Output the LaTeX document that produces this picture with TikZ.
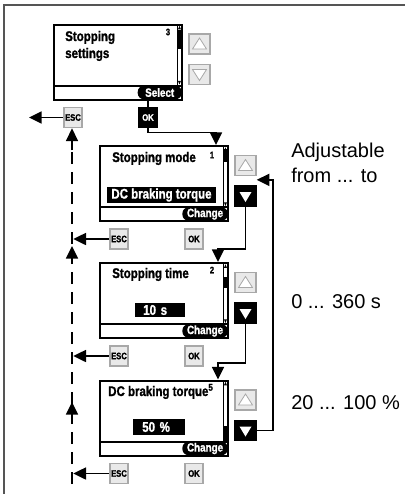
\documentclass[tikz,border=0pt]{standalone}
\usepackage{fontspec}
\setmainfont{Liberation Sans}
\newfontfamily\lcdfont[FakeStretch=0.82,FakeBold=1.2]{Liberation Sans}
\usetikzlibrary{positioning, arrows.meta, calc}
\definecolor{keyfill}{RGB}{233,233,233}
\definecolor{keyedge}{RGB}{168,168,168}
\definecolor{framegray}{RGB}{85,85,85}
\tikzset{
  LCD/.style={draw=black,line width=1.5pt,minimum width=96pt,minimum height=56.25pt,inner sep=0pt,
    path picture={
      \draw[line width=1.5pt] ([yshift=10.5pt]path picture bounding box.south west)--([yshift=10.5pt]path picture bounding box.south east);
      \draw[line width=0.6pt] ([xshift=-3.75pt]path picture bounding box.north east)--([xshift=-3.75pt,yshift=10.5pt]path picture bounding box.south east);
      \fill ([xshift=-1.9pt,yshift=-1pt]path picture bounding box.north east)--++(1.5,3.5)--++(-3,0)--cycle;
      \fill ([xshift=-1.9pt,yshift=11.3pt]path picture bounding box.south east)--++(1.5,-3.5)--++(-3,0)--cycle;
    }},
  TTL/.style={font=\lcdfont\bfseries\fontsize{10.5}{12}\selectfont,inner sep=0pt,anchor=base west},
  NUM/.style={font=\lcdfont\bfseries\fontsize{7}{8}\selectfont,inner sep=0pt},
  VAL/.style={fill=black,text=white,font=\lcdfont\bfseries\fontsize{10.5}{12}\selectfont,minimum height=12pt,inner ysep=0pt},
  PILL/.style={fill=black,text=white,rounded corners=4.5pt,font=\lcdfont\bfseries\fontsize{9}{10}\selectfont,minimum height=10pt,inner sep=0pt,anchor=east},
  KEY/.style={draw=keyedge,fill=keyfill,line width=1.3pt,minimum width=14pt,minimum height=15pt,inner sep=0pt,font=\lcdfont\bfseries\fontsize{7}{8}\selectfont},
  KEYON/.style={KEY,draw=black,fill=black,text=white},
  ARU/.style={KEY,minimum width=15.5pt,path picture={\draw[keyedge,fill=white,line width=0.6pt] ($(path picture bounding box.center)+(-7,5)$)--++(14,0)--++(-7,-11)--cycle;}},
  ARD/.style={KEY,minimum width=15.5pt,path picture={\draw[keyedge,fill=white,line width=0.6pt] ($(path picture bounding box.center)+(-7,-5)$)--++(14,0)--++(-7,11)--cycle;}},
  ARDON/.style={KEYON,minimum width=15.5pt,path picture={\fill[white] ($(path picture bounding box.center)+(-6,-4)$)--++(12,0)--++(-6,10)--cycle;}},
  FL/.style={-{Triangle[length=9.5pt,width=9pt]},line width=1.3pt},
  LN/.style={line width=1.3pt},
  FRM/.style={draw=framegray,line width=1.2pt},
  INFO/.style={font=\fontsize{15}{18}\selectfont,inner sep=0pt,anchor=base west},
}
\begin{document}
\begin{tikzpicture}[x=0.75pt,y=-0.75pt]
\useasboundingbox (0,0) rectangle (405,494);

% Frame
\draw[FRM] (4,494)--(4,5)--(405,5);

% Screen 1: Stopping settings
\node[LCD](scr1) at (118,62){};
\fill ([xshift=-3.75pt,yshift=-4.5pt]scr1.north east) rectangle ([yshift=-18.75pt]scr1.north east);
\node[TTL](ttl1a) at (65,41){Stopping};
\node[TTL](ttl1b) at (65,58){settings};
\node[NUM](num1) at (168,32){3};
\node[PILL,minimum width=33pt](sel1) at (182,92.5){Select};
\node[ARU](up1) at (199.5,44){};
\node[ARD](dn1) at (199.5,74.5){};
\node[KEY](esc1) at (73,117.5){ESC};
\node[KEYON](ok1) at (148,117.5){OK};

% Screen 2: Stopping mode
\node[LCD](scr2) at (164,183.5){};
\fill ([xshift=-3.75pt,yshift=-3pt]scr2.north east) rectangle ([yshift=-12.75pt]scr2.north east);
\node[TTL](ttl2) at (112,162){Stopping mode};
\node[NUM](num2) at (212,155){1};
\node[VAL,minimum width=77.25pt](val2) at (161.5,195){DC braking torque};
\node[PILL,minimum width=34pt](chg2) at (228,214){Change};
\node[ARU](up2) at (245.5,165.5){};
\node[ARDON](dn2) at (245.5,196){};
\node[KEY](esc2) at (119,239){ESC};
\node[KEY](ok2) at (194,239){OK};

% Screen 3: Stopping time
\node[LCD](scr3) at (164,300.5){};
\fill ([xshift=-3.75pt,yshift=-11.25pt]scr3.north east) rectangle ([yshift=-19.5pt]scr3.north east);
\node[TTL](ttl3) at (112,278){Stopping time};
\node[NUM](num3) at (212,270){2};
\node[VAL,anchor=west,minimum height=10.5pt,inner xsep=6pt,text width=25.5pt,align=left](val3) at (135,310){10 s};
\node[PILL,minimum width=34pt](chg3) at (228,331){Change};
\node[ARU](up3) at (245.5,282.5){};
\node[ARDON](dn3) at (245.5,313){};
\node[KEY](esc3) at (119,356){ESC};
\node[KEY](ok3) at (194,356){OK};

% Screen 4: DC braking torque
\node[LCD](scr4) at (164,418){};
\fill ([xshift=-3.75pt,yshift=-35pt]scr4.north east) rectangle ([yshift=-45.75pt]scr4.north east);
\node[TTL](ttl4) at (108,396){DC braking torque\textsuperscript{5}};
\node[VAL,anchor=west,inner xsep=6.75pt,text width=25.5pt,align=left](val4) at (133,427){50 \%};
\node[PILL,minimum width=34pt](chg4) at (228,448.5){Change};
\node[ARU](up4) at (245.5,400){};
\node[ARDON](dn4) at (245.5,430.5){};
\node[KEY](esc4) at (119,473.5){ESC};
\node[KEY](ok4) at (194,473.5){OK};

% Ranges
\node[INFO](rng1a) at (291,157){Adjustable};
\node[INFO](rng1b) at (291,182){from ... to};
\node[INFO](rng2) at (291,308){0 ... 360 s};
\node[INFO](rng3) at (291,409){20 ... 100 \%};

% Forward flow
\draw[LN](ok1.north |- scr1.south)--(ok1.north);
\draw[FL](ok1.south)--++(0,4)-|([xshift=-9.75pt]scr2.north east);
\draw[FL](dn2.south)--++(0,42)-|([xshift=-8.25pt]scr3.north east);
\draw[FL](dn3.south)--++(0,39)-|([xshift=-8.25pt]scr4.north east);

% Loop back to the first value
\draw[FL](dn4.east)--++(16,0)|-([yshift=-2.6pt]up2.south east);

% ESC return path
\coordinate (back) at (29,117.5);
\coordinate (rbot) at (72,484);
\coordinate (tip2) at (72,246);
\coordinate (tip3) at (72,402);
\draw[FL](esc1.west)--(back);
\draw[LN,dash pattern=on 9pt off 6pt](rbot)--([yshift=-16pt]esc1.south -| rbot);
\draw[FL]([yshift=-16.5pt]esc1.south -| rbot)--(esc1.south -| rbot);
\draw[FL]([yshift=-11pt]tip2)--(tip2);
\draw[FL]([yshift=-11pt]tip3)--(tip3);
\draw[FL,shorten >=1pt](esc2.west)--(esc2.west -| rbot);
\draw[FL,shorten >=1pt](esc3.west)--(esc3.west -| rbot);
\draw[FL,shorten >=1pt](esc4.west)--(esc4.west -| rbot);

\end{tikzpicture}
\end{document}
